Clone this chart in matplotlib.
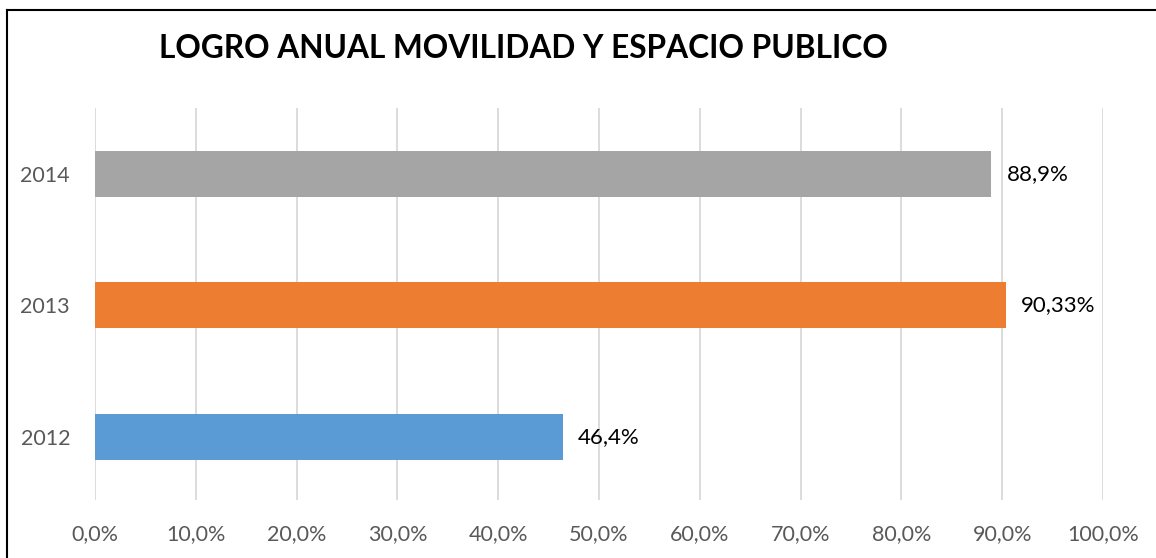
import matplotlib.pyplot as plt
from matplotlib.lines import Line2D
from matplotlib.ticker import FuncFormatter

years = ['2012', '2013', '2014']
logro = [46.4, 90.33, 88.9]
value_labels = ['46,4%', '90,33%', '88,9%']
bar_colors = ['#5B9BD5', '#ED7D31', '#A5A5A5']
x_ticks = [0, 10, 20, 30, 40, 50, 60, 70, 80, 90, 100]

plt.rcParams['font.family'] = ['Lato', 'DejaVu Sans']

fig = plt.figure(figsize=(11.56, 5.58), dpi=100)
ax = fig.add_axes([95 / 1156, 58 / 558, 1008 / 1156, 392 / 558])

pos = list(range(len(years)))
ax.barh(pos, logro, height=0.35, color=bar_colors, zorder=3)

for p, v, lab in zip(pos, logro, value_labels):
    ax.annotate(lab, xy=(v, p), xytext=(11, 0), textcoords='offset points',
                va='center', ha='left', fontsize=16, color='black')

ax.set_xlim(0, 100)
ax.set_ylim(-0.48, 2.5)
ax.set_xticks(x_ticks)
ax.xaxis.set_major_formatter(FuncFormatter(lambda v, _: f'{v:.1f}%'.replace('.', ',')))
ax.set_yticks(pos)
ax.set_yticklabels(years)
ax.tick_params(axis='both', length=0, labelsize=15.5, labelcolor='#595959')
ax.tick_params(axis='x', pad=17)
ax.tick_params(axis='y', pad=18)
ax.grid(axis='x', color='#D9D9D9', linewidth=1.3, zorder=0)
for s in ax.spines.values():
    s.set_visible(False)

fig.text(523 / 1156, 1 - 48 / 558, 'LOGRO ANUAL MOVILIDAD Y ESPACIO PUBLICO',
         ha='center', va='center', fontsize=22.8, fontweight='bold', color='black')

# frame lines along the left and top edges
fig.add_artist(Line2D([7 / 1156, 7 / 1156], [0, 1 - 10 / 558], transform=fig.transFigure,
                      color='black', linewidth=1.5))
fig.add_artist(Line2D([7 / 1156, 1], [1 - 10 / 558, 1 - 10 / 558], transform=fig.transFigure,
                      color='black', linewidth=1.5))

fig.savefig('out.png', dpi=100)
